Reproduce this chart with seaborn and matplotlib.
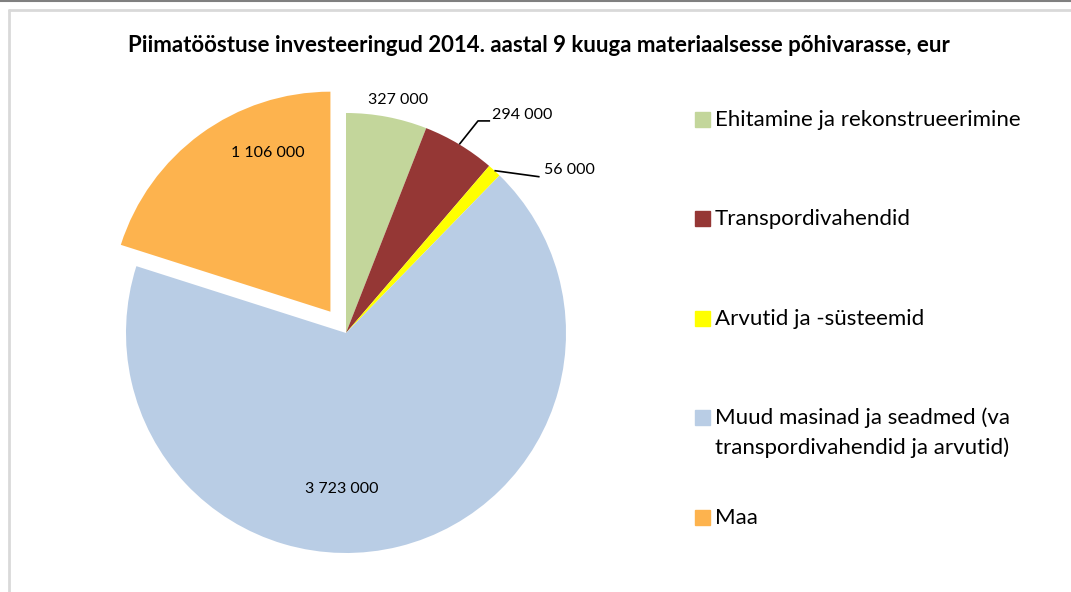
import numpy as np
import matplotlib
matplotlib.use("Agg")
import matplotlib.pyplot as plt
import seaborn as sns
from matplotlib.lines import Line2D
from matplotlib.patches import Rectangle

# data
categories = ["Ehitamine ja rekonstrueerimine", "Transpordivahendid",
              "Arvutid ja -süsteemid",
              "Muud masinad ja seadmed (va\ntranspordivahendid ja arvutid)", "Maa"]
values = [327000, 294000, 56000, 3723000, 1106000]
colors = ["#C3D69B", "#953735", "#FFFF00", "#B9CDE5", "#FDB34E"]
title = "Piimatööstuse investeeringud 2014. aastal 9 kuuga materiaalsesse põhivarasse, eur"

sns.set_theme(style="white")
plt.rcParams['font.family'] = ['Lato', 'DejaVu Sans']

W, H = 1071, 592
fig = plt.figure(figsize=(W / 100, H / 100), dpi=100)

# pie centre (346, 333) px, radius 220 px
R = 220
box = 500
cx, cy = 346, H - 333
ax = fig.add_axes([(cx - box / 2) / W, (cy - box / 2) / H, box / W, box / H])
lim = box / 2 / R
ax.set_aspect("equal")
ax.axis("off")

explode = [0, 0, 0, 0, 0.12]
wedges, _ = ax.pie(values, colors=colors, startangle=90, counterclock=False,
                   explode=explode, wedgeprops=dict(linewidth=0),
                   radius=1, frame=False)
ax.set_xlim(-lim, lim)
ax.set_ylim(-lim, lim)


def fmt(v):
    return f"{v:,}".replace(",", " ")


# label placement (data units of the pie axes)
label_pos = [(0.236, 1.06, "center"), (0.664, 0.99, "left"), (0.90, 0.74, "left"),
             (-0.018, -0.709, "center"), (-0.355, 0.818, "center")]
leaders = {1: [(0.60, 0.964), (0.655, 0.964)], 2: [(0.88, 0.71)]}

for i, (w, v) in enumerate(zip(wedges, values)):
    x, y, ha = label_pos[i]
    ax.text(x, y, fmt(v), ha=ha, va="center", fontsize=11.5, color="#000000")
    if i in leaders:
        mid = np.deg2rad((w.theta1 + w.theta2) / 2)
        pts = [(np.cos(mid), np.sin(mid))] + leaders[i]
        xs, ys = zip(*pts)
        ax.plot(xs, ys, color="black", lw=1.2, solid_capstyle="butt")

fig.text(539 / W, 1 - 46 / H, title, ha="center", va="center",
         fontsize=16, fontweight="bold", color="#000000")

# legend drawn by hand so entries are evenly spaced like the original
leg_y = [120, 219, 319, 418, 518]
for lab, col, ly in zip(categories, colors, leg_y):
    fig.patches.append(Rectangle((695 / W, 1 - (ly + 7) / H), 15 / W, 15 / H,
                                 transform=fig.transFigure, color=col))
    for k, line in enumerate(lab.split("\n")):
        fig.text(715 / W, 1 - (ly + 6 + 30 * k) / H, line, ha="left", va="baseline",
                 fontsize=16, color="#000000")

# chart frame remnants
fig.add_artist(Line2D([0, 1], [1 - 0.5 / H, 1 - 0.5 / H], color="#808080", lw=1.5))
fig.add_artist(Line2D([9 / W, 1], [1 - 10 / H, 1 - 10 / H], color="#D9D9D9", lw=2))
fig.add_artist(Line2D([9 / W, 9 / W], [0, 1 - 10 / H], color="#D9D9D9", lw=2))

fig.savefig("out.png", dpi=100, facecolor="white")
